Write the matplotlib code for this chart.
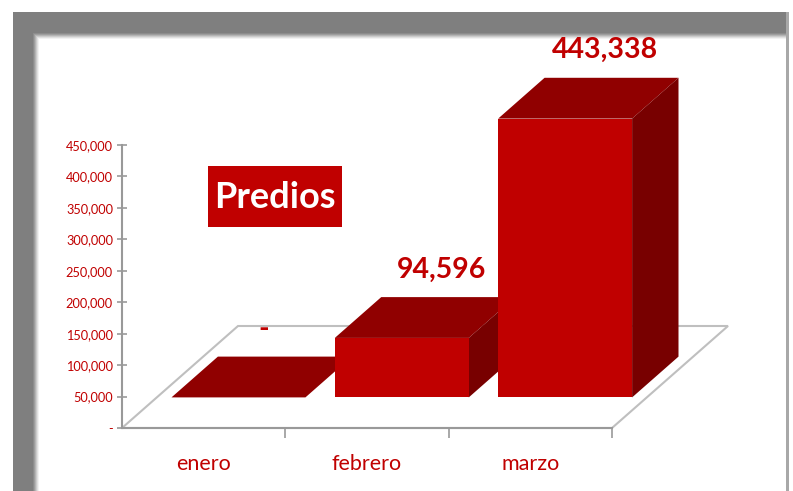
import matplotlib
matplotlib.use("Agg")
import matplotlib.pyplot as plt
from matplotlib.patches import Rectangle, Polygon
from matplotlib.ticker import FuncFormatter, FixedLocator

meses = ["enero", "febrero", "marzo"]
predios = [0, 94596, 443338]
y_ticks = [0, 50000, 100000, 150000, 200000, 250000, 300000, 350000, 400000, 450000]

ROJO = "#C00000"
ROJO_TOP = "#900000"
ROJO_LADO = "#780000"
FUENTE = ["Lato", "DejaVu Sans"]

W, H = 793, 491
fig = plt.figure(figsize=(W / 100, H / 100), dpi=100)
fig.patch.set_facecolor("white")


def px_rect(x0, y0, x1, y1, color, z=0):
    # rectangulo en pixeles de la imagen (y desde arriba)
    r = Rectangle((x0 / W, 1 - y1 / H), (x1 - x0) / W, (y1 - y0) / H,
                  transform=fig.transFigure, facecolor=color, edgecolor="none",
                  zorder=z)
    fig.patches.append(r)


# marco gris con sombra
px_rect(13, 12, 789, H, "#7F7F7F", z=-10)
px_rect(786, 12, 789, H, "#A8A8A8", z=-9)
grises = ["#8C8C8C", "#9E9E9E", "#B4B4B4", "#CBCBCB", "#E0E0E0", "#F2F2F2", "#FFFFFF"]
for k, g in enumerate(grises):
    px_rect(33 + k, 33 + k, 786, H, g, z=-8 + k * 0.01)

# ejes
ax = fig.add_axes([122 / W, 1 - 428 / H, 490 / W, 283 / H])
ax.patch.set_visible(False)
ax.set_xlim(-0.5, 2.5)
ax.set_ylim(0, 450000)

# profundidad del piso (unidades de datos)
DX = 116 / (490 / 3)
DY = 102 * 450000 / 283
f0, f1 = 0.30, 0.70
ancho = 0.82

piso = Polygon([(-0.5, 0), (2.5, 0), (2.5 + DX, DY), (-0.5 + DX, DY)],
               closed=True, facecolor="none", edgecolor="#BFBFBF", lw=1.5,
               clip_on=False, zorder=1)
ax.add_patch(piso)

xs = [i + f0 * DX for i in range(len(meses))]
base = f0 * DY
ddx = (f1 - f0) * DX
ddy = (f1 - f0) * DY

barras = ax.bar(xs, predios, width=ancho, bottom=base, color=ROJO,
                edgecolor="none")
for i, (b, v) in enumerate(zip(barras, predios)):
    z = 3 + i * 3
    b.set_zorder(z + 2)
    b.set_clip_on(False)
    x0 = b.get_x()
    x1 = x0 + ancho
    top = base + v
    tapa = Polygon([(x0, top), (x1, top), (x1 + ddx, top + ddy), (x0 + ddx, top + ddy)],
                   closed=True, facecolor=ROJO_TOP, edgecolor="none",
                   clip_on=False, zorder=z)
    lado = Polygon([(x1, base), (x1, top), (x1 + ddx, top + ddy), (x1 + ddx, base + ddy)],
                   closed=True, facecolor=ROJO_LADO, edgecolor="none",
                   clip_on=False, zorder=z + 1)
    ax.add_patch(tapa)
    ax.add_patch(lado)
    txt = "-" if v == 0 else f"{v:,}"
    dx_lab = 0.55 * ddx if v == 0 else 0.85 * ddx
    ax.annotate(txt, (xs[i] + dx_lab, top + ddy), xytext=(0, 14),
                textcoords="offset points", ha="center", va="baseline",
                fontsize=20.5, fontweight="bold", color=ROJO, family=FUENTE,
                annotation_clip=False, zorder=20)

# eje y
ax.yaxis.set_major_locator(FixedLocator(y_ticks))
ax.yaxis.set_major_formatter(FuncFormatter(lambda v, p: "-" if v == 0 else f"{v:,.0f}"))
ax.tick_params(axis="y", direction="inout", length=7, width=1.2, color="#999999",
               labelcolor=ROJO, labelsize=9.2, pad=3)
for lab in ax.get_yticklabels():
    lab.set_family(FUENTE)

# eje x: marcas en los limites, etiquetas en el centro
ax.set_xticks([0.5, 1.5, 2.5])
ax.set_xticklabels([])
ax.set_xticks([0, 1, 2], minor=True)
ax.set_xticklabels(meses, minor=True, fontsize=15.5, color=ROJO, family=FUENTE)
ax.tick_params(axis="x", which="major", direction="out", length=7, width=1.2,
               color="#999999")
ax.tick_params(axis="x", which="minor", length=0, pad=19)

for s in ["top", "right"]:
    ax.spines[s].set_visible(False)
for s in ["left", "bottom"]:
    ax.spines[s].set_color("#999999")
    ax.spines[s].set_linewidth(1.5)
    ax.spines[s].set_zorder(2)

# titulo en recuadro
px_rect(208, 166, 342, 227, ROJO, z=5)
fig.text(275 / W, 1 - 198 / H, "Predios", ha="center", va="center",
         fontsize=26, fontweight="bold", color="white", family=FUENTE, zorder=6)

fig.savefig("out.png", dpi=100)
